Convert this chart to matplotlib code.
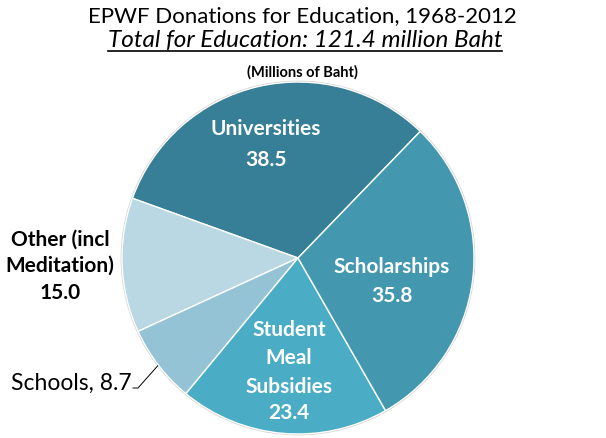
import numpy as np
import matplotlib.pyplot as plt

# data, in pie order (counterclockwise from the top-right)
labels = ["Universities", "Other (incl Meditation)", "Schools", "Student Meal Subsidies", "Scholarships"]
values = [38.5, 15.0, 8.7, 23.4, 35.8]
colors = ["#367f96", "#bad7e4", "#93c3d5", "#4aacc5", "#4398b0"]

plt.rcParams['font.family'] = ['Lato', 'DejaVu Sans']

W, H = 606, 438
fig = plt.figure(figsize=(W / 100, H / 100), dpi=100)
ax = fig.add_axes([0, 0, 1, 1])
ax.set_xlim(0, W)
ax.set_ylim(0, H)
ax.set_aspect('equal')
ax.axis('off')

cx, cy, r = 298, H - 258, 176
start = 46
wedges, _ = ax.pie(values, colors=colors, startangle=start, counterclock=True,
                   center=(cx, cy), radius=r,
                   wedgeprops=dict(edgecolor='white', linewidth=1.0))
ax.add_patch(plt.Circle((cx, cy), r + 0.5, fill=False, edgecolor='#d0d0d0', linewidth=1.2, zorder=0))
ax.set_xlim(0, W)
ax.set_ylim(0, H)

def py(y):
    return H - y

# titles
ax.text(302, py(16), "EPWF Donations for Education, 1968-2012", ha='center', va='center',
        fontsize=16, color='black')
sub = ax.text(305, py(41), "Total for Education: 121.4 million Baht", ha='center', va='center',
              fontsize=17.5, style='italic', color='black')
fig.canvas.draw()
bb = sub.get_window_extent().transformed(ax.transData.inverted())
ax.plot([bb.x0, bb.x1], [py(51), py(51)], color='black', linewidth=1.2)
ax.text(302, py(72), "(Millions of Baht)", ha='center', va='center', fontsize=10.5, fontweight='bold')

inside = dict(ha='center', va='center', fontsize=15, fontweight='bold', color='white')
ax.text(266, py(129), labels[0], **inside)
ax.text(266, py(160), f"{values[0]:.1f}", **inside)
ax.text(392, py(267), labels[4], **inside)
ax.text(392, py(296), f"{values[4]:.1f}", **inside)
for i, line in enumerate(["Student", "Meal", "Subsidies"]):
    ax.text(289, py(330 + 28.5 * i), line, **inside)
ax.text(289, py(413), f"{values[3]:.1f}", **inside)

outside = dict(ha='center', va='center', fontsize=15, fontweight='bold', color='black')
ax.text(60, py(240), "Other (incl", **outside)
ax.text(60, py(266), "Meditation)", **outside)
ax.text(60, py(293), f"{values[1]:.1f}", **outside)
ax.text(132, py(383), f"Schools, {values[2]:.1f}", ha='right', va='center', fontsize=16.5, color='black')

# leader line for Schools
ang = np.deg2rad(start + 360 * (sum(values[:2]) + values[2] / 2) / sum(values))
x0, y0 = cx + (r + 1) * np.cos(ang), cy + (r + 1) * np.sin(ang)
ax.plot([x0, 138, 133], [y0, py(388), py(388)], color='black', linewidth=0.7)

fig.savefig("out.png", dpi=100)
